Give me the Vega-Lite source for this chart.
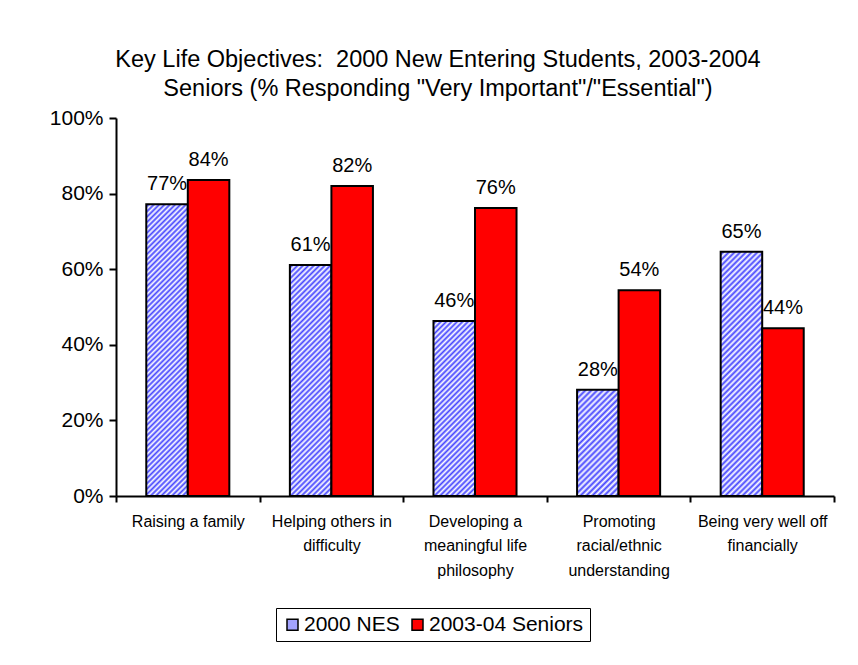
{
"$schema": "https://vega.github.io/schema/vega-lite/v6.json",
"width": 718,
"height": 378,
"autosize": {"type": "none"},
"padding": {"left": 116, "top": 118, "right": 24, "bottom": 169},
"background": "white",
"config": {"font": "Liberation Sans", "view": {"stroke": null}},
"title": {"text": ["Key Life Objectives:\u00a0 2000 New Entering Students, 2003-2004", "Seniors (% Responding \"Very Important\"/\"Essential\")"], "font": "Liberation Sans", "fontSize": 23.5, "fontWeight": "normal", "color": "black", "lineHeight": 29, "anchor": "middle", "frame": "group", "dx": -37, "offset": 7},
"data": {"values": [
{"objective": "Raising a family", "series": "2000 NES", "pct": 0.772},
{"objective": "Raising a family", "series": "2003-04 Seniors", "pct": 0.836},
{"objective": "Helping others in difficulty", "series": "2000 NES", "pct": 0.611},
{"objective": "Helping others in difficulty", "series": "2003-04 Seniors", "pct": 0.820},
{"objective": "Developing a meaningful life philosophy", "series": "2000 NES", "pct": 0.463},
{"objective": "Developing a meaningful life philosophy", "series": "2003-04 Seniors", "pct": 0.762},
{"objective": "Promoting racial/ethnic understanding", "series": "2000 NES", "pct": 0.281},
{"objective": "Promoting racial/ethnic understanding", "series": "2003-04 Seniors", "pct": 0.544},
{"objective": "Being very well off financially", "series": "2000 NES", "pct": 0.646},
{"objective": "Being very well off financially", "series": "2003-04 Seniors", "pct": 0.444}
]},
"encoding": {
"x": {"field": "objective", "type": "nominal", "sort": null, "scale": {"paddingInner": 0, "paddingOuter": 0},
 "axis": {"title": null, "labelAngle": 0, "tickBand": "extent", "tickSize": 6, "tickWidth": 2, "tickColor": "black", "domainColor": "black", "domainWidth": 2, "labelPadding": 11, "labelFontSize": 16, "labelLineHeight": 24.5, "labelBaseline": "top", "labelColor": "black", "labelLimit": 0, "labelOverlap": false, "labelBound": false, "grid": false,
 "labelExpr": "datum.value == 'Helping others in difficulty' ? ['Helping others in', 'difficulty'] : datum.value == 'Developing a meaningful life philosophy' ? ['Developing a', 'meaningful life', 'philosophy'] : datum.value == 'Promoting racial/ethnic understanding' ? ['Promoting', 'racial/ethnic', 'understanding'] : datum.value == 'Being very well off financially' ? ['Being very well off', 'financially'] : datum.label"}},
"xOffset": {"field": "series", "type": "nominal", "scale": {"paddingInner": 0, "paddingOuter": 0.729}},
"y": {"field": "pct", "type": "quantitative", "scale": {"domain": [0, 1], "nice": false},
 "axis": {"title": null, "format": ".0%", "values": [0, 0.2, 0.4, 0.6, 0.8, 1], "tickSize": 7, "tickWidth": 2, "tickColor": "black", "domainColor": "black", "domainWidth": 2, "labelPadding": 6, "labelFontSize": 21, "labelColor": "black", "grid": false}}
},
"layer": [
{"mark": {"type": "bar", "stroke": "black", "strokeWidth": 2},
 "encoding": {"fill": {
  "condition": [
   {"test": "datum.objective === 'Raising a family' && datum.series === '2000 NES'", "value": {"gradient": "linear", "x1": 0, "y1": 0, "x2": 0.1592, "y2": 1.1196, "stops": [
{"offset":0,"color":"#fff"},{"offset":0.008,"color":"#44f"},{"offset":0.016,"color":"#fff"},{"offset":0.024,"color":"#44f"},{"offset":0.032,"color":"#fff"},{"offset":0.04,"color":"#44f"},{"offset":0.048,"color":"#fff"},{"offset":0.056,"color":"#44f"},{"offset":0.064,"color":"#fff"},{"offset":0.072,"color":"#44f"},{"offset":0.08,"color":"#fff"},{"offset":0.088,"color":"#44f"},{"offset":0.096,"color":"#fff"},{"offset":0.104,"color":"#44f"},{"offset":0.112,"color":"#fff"},{"offset":0.12,"color":"#44f"},{"offset":0.128,"color":"#fff"},{"offset":0.136,"color":"#44f"},{"offset":0.144,"color":"#fff"},{"offset":0.152,"color":"#44f"},{"offset":0.16,"color":"#fff"},{"offset":0.168,"color":"#44f"},{"offset":0.176,"color":"#fff"},{"offset":0.184,"color":"#44f"},{"offset":0.192,"color":"#fff"},{"offset":0.2,"color":"#44f"},{"offset":0.208,"color":"#fff"},{"offset":0.216,"color":"#44f"},{"offset":0.224,"color":"#fff"},{"offset":0.232,"color":"#44f"},{"offset":0.24,"color":"#fff"},{"offset":0.248,"color":"#44f"},{"offset":0.256,"color":"#fff"},{"offset":0.264,"color":"#44f"},{"offset":0.272,"color":"#fff"},{"offset":0.28,"color":"#44f"},{"offset":0.288,"color":"#fff"},{"offset":0.296,"color":"#44f"},{"offset":0.304,"color":"#fff"},{"offset":0.312,"color":"#44f"},{"offset":0.32,"color":"#fff"},{"offset":0.328,"color":"#44f"},{"offset":0.336,"color":"#fff"},{"offset":0.344,"color":"#44f"},{"offset":0.352,"color":"#fff"},{"offset":0.36,"color":"#44f"},{"offset":0.368,"color":"#fff"},{"offset":0.376,"color":"#44f"},{"offset":0.384,"color":"#fff"},{"offset":0.392,"color":"#44f"},{"offset":0.4,"color":"#fff"},{"offset":0.408,"color":"#44f"},{"offset":0.416,"color":"#fff"},{"offset":0.424,"color":"#44f"},{"offset":0.432,"color":"#fff"},{"offset":0.44,"color":"#44f"},{"offset":0.448,"color":"#fff"},{"offset":0.456,"color":"#44f"},{"offset":0.464,"color":"#fff"},{"offset":0.472,"color":"#44f"},{"offset":0.48,"color":"#fff"},{"offset":0.488,"color":"#44f"},{"offset":0.496,"color":"#fff"},{"offset":0.504,"color":"#44f"},{"offset":0.512,"color":"#fff"},{"offset":0.52,"color":"#44f"},{"offset":0.528,"color":"#fff"},{"offset":0.536,"color":"#44f"},{"offset":0.544,"color":"#fff"},{"offset":0.552,"color":"#44f"},{"offset":0.56,"color":"#fff"},{"offset":0.568,"color":"#44f"},{"offset":0.576,"color":"#fff"},{"offset":0.584,"color":"#44f"},{"offset":0.592,"color":"#fff"},{"offset":0.6,"color":"#44f"},{"offset":0.608,"color":"#fff"},{"offset":0.616,"color":"#44f"},{"offset":0.624,"color":"#fff"},{"offset":0.632,"color":"#44f"},{"offset":0.64,"color":"#fff"},{"offset":0.648,"color":"#44f"},{"offset":0.656,"color":"#fff"},{"offset":0.664,"color":"#44f"},{"offset":0.672,"color":"#fff"},{"offset":0.68,"color":"#44f"},{"offset":0.688,"color":"#fff"},{"offset":0.696,"color":"#44f"},{"offset":0.704,"color":"#fff"},{"offset":0.712,"color":"#44f"},{"offset":0.72,"color":"#fff"},{"offset":0.728,"color":"#44f"},{"offset":0.736,"color":"#fff"},{"offset":0.744,"color":"#44f"},{"offset":0.752,"color":"#fff"},{"offset":0.76,"color":"#44f"},{"offset":0.768,"color":"#fff"},{"offset":0.776,"color":"#44f"},{"offset":0.784,"color":"#fff"},{"offset":0.792,"color":"#44f"},{"offset":0.8,"color":"#fff"},{"offset":0.808,"color":"#44f"},{"offset":0.816,"color":"#fff"},{"offset":0.824,"color":"#44f"},{"offset":0.832,"color":"#fff"},{"offset":0.84,"color":"#44f"},{"offset":0.848,"color":"#fff"},{"offset":0.856,"color":"#44f"},{"offset":0.864,"color":"#fff"},{"offset":0.872,"color":"#44f"},{"offset":0.88,"color":"#fff"},{"offset":0.888,"color":"#44f"},{"offset":0.896,"color":"#fff"},{"offset":0.904,"color":"#44f"},{"offset":0.912,"color":"#fff"},{"offset":0.92,"color":"#44f"},{"offset":0.928,"color":"#fff"},{"offset":0.936,"color":"#44f"},{"offset":0.944,"color":"#fff"},{"offset":0.952,"color":"#44f"},{"offset":0.96,"color":"#fff"},{"offset":0.968,"color":"#44f"},{"offset":0.976,"color":"#fff"},{"offset":0.984,"color":"#44f"},{"offset":0.992,"color":"#fff"},{"offset":1,"color":"#44f"}
   ]}},
   {"test": "datum.objective === 'Helping others in difficulty' && datum.series === '2000 NES'", "value": {"gradient": "linear", "x1": 0, "y1": 0, "x2": 0.2053, "y2": 1.1428, "stops": [
{"offset":0,"color":"#fff"},{"offset":0.01,"color":"#44f"},{"offset":0.02,"color":"#fff"},{"offset":0.03,"color":"#44f"},{"offset":0.04,"color":"#fff"},{"offset":0.05,"color":"#44f"},{"offset":0.06,"color":"#fff"},{"offset":0.07,"color":"#44f"},{"offset":0.08,"color":"#fff"},{"offset":0.09,"color":"#44f"},{"offset":0.1,"color":"#fff"},{"offset":0.11,"color":"#44f"},{"offset":0.12,"color":"#fff"},{"offset":0.13,"color":"#44f"},{"offset":0.14,"color":"#fff"},{"offset":0.15,"color":"#44f"},{"offset":0.16,"color":"#fff"},{"offset":0.17,"color":"#44f"},{"offset":0.18,"color":"#fff"},{"offset":0.19,"color":"#44f"},{"offset":0.2,"color":"#fff"},{"offset":0.21,"color":"#44f"},{"offset":0.22,"color":"#fff"},{"offset":0.23,"color":"#44f"},{"offset":0.24,"color":"#fff"},{"offset":0.25,"color":"#44f"},{"offset":0.26,"color":"#fff"},{"offset":0.27,"color":"#44f"},{"offset":0.28,"color":"#fff"},{"offset":0.29,"color":"#44f"},{"offset":0.3,"color":"#fff"},{"offset":0.31,"color":"#44f"},{"offset":0.32,"color":"#fff"},{"offset":0.33,"color":"#44f"},{"offset":0.34,"color":"#fff"},{"offset":0.35,"color":"#44f"},{"offset":0.36,"color":"#fff"},{"offset":0.37,"color":"#44f"},{"offset":0.38,"color":"#fff"},{"offset":0.39,"color":"#44f"},{"offset":0.4,"color":"#fff"},{"offset":0.41,"color":"#44f"},{"offset":0.42,"color":"#fff"},{"offset":0.43,"color":"#44f"},{"offset":0.44,"color":"#fff"},{"offset":0.45,"color":"#44f"},{"offset":0.46,"color":"#fff"},{"offset":0.47,"color":"#44f"},{"offset":0.48,"color":"#fff"},{"offset":0.49,"color":"#44f"},{"offset":0.5,"color":"#fff"},{"offset":0.51,"color":"#44f"},{"offset":0.52,"color":"#fff"},{"offset":0.53,"color":"#44f"},{"offset":0.54,"color":"#fff"},{"offset":0.55,"color":"#44f"},{"offset":0.56,"color":"#fff"},{"offset":0.57,"color":"#44f"},{"offset":0.58,"color":"#fff"},{"offset":0.59,"color":"#44f"},{"offset":0.6,"color":"#fff"},{"offset":0.61,"color":"#44f"},{"offset":0.62,"color":"#fff"},{"offset":0.63,"color":"#44f"},{"offset":0.64,"color":"#fff"},{"offset":0.65,"color":"#44f"},{"offset":0.66,"color":"#fff"},{"offset":0.67,"color":"#44f"},{"offset":0.68,"color":"#fff"},{"offset":0.69,"color":"#44f"},{"offset":0.7,"color":"#fff"},{"offset":0.71,"color":"#44f"},{"offset":0.72,"color":"#fff"},{"offset":0.73,"color":"#44f"},{"offset":0.74,"color":"#fff"},{"offset":0.75,"color":"#44f"},{"offset":0.76,"color":"#fff"},{"offset":0.77,"color":"#44f"},{"offset":0.78,"color":"#fff"},{"offset":0.79,"color":"#44f"},{"offset":0.8,"color":"#fff"},{"offset":0.81,"color":"#44f"},{"offset":0.82,"color":"#fff"},{"offset":0.83,"color":"#44f"},{"offset":0.84,"color":"#fff"},{"offset":0.85,"color":"#44f"},{"offset":0.86,"color":"#fff"},{"offset":0.87,"color":"#44f"},{"offset":0.88,"color":"#fff"},{"offset":0.89,"color":"#44f"},{"offset":0.9,"color":"#fff"},{"offset":0.91,"color":"#44f"},{"offset":0.92,"color":"#fff"},{"offset":0.93,"color":"#44f"},{"offset":0.94,"color":"#fff"},{"offset":0.95,"color":"#44f"},{"offset":0.96,"color":"#fff"},{"offset":0.97,"color":"#44f"},{"offset":0.98,"color":"#fff"},{"offset":0.99,"color":"#44f"},{"offset":1,"color":"#fff"}
   ]}},
   {"test": "datum.objective === 'Developing a meaningful life philosophy' && datum.series === '2000 NES'", "value": {"gradient": "linear", "x1": 0, "y1": 0, "x2": 0.2778, "y2": 1.1713, "stops": [
{"offset":0,"color":"#fff"},{"offset":0.0125,"color":"#44f"},{"offset":0.025,"color":"#fff"},{"offset":0.0375,"color":"#44f"},{"offset":0.05,"color":"#fff"},{"offset":0.0625,"color":"#44f"},{"offset":0.075,"color":"#fff"},{"offset":0.0875,"color":"#44f"},{"offset":0.1,"color":"#fff"},{"offset":0.1125,"color":"#44f"},{"offset":0.125,"color":"#fff"},{"offset":0.1375,"color":"#44f"},{"offset":0.15,"color":"#fff"},{"offset":0.1625,"color":"#44f"},{"offset":0.175,"color":"#fff"},{"offset":0.1875,"color":"#44f"},{"offset":0.2,"color":"#fff"},{"offset":0.2125,"color":"#44f"},{"offset":0.225,"color":"#fff"},{"offset":0.2375,"color":"#44f"},{"offset":0.25,"color":"#fff"},{"offset":0.2625,"color":"#44f"},{"offset":0.275,"color":"#fff"},{"offset":0.2875,"color":"#44f"},{"offset":0.3,"color":"#fff"},{"offset":0.3125,"color":"#44f"},{"offset":0.325,"color":"#fff"},{"offset":0.3375,"color":"#44f"},{"offset":0.35,"color":"#fff"},{"offset":0.3625,"color":"#44f"},{"offset":0.375,"color":"#fff"},{"offset":0.3875,"color":"#44f"},{"offset":0.4,"color":"#fff"},{"offset":0.4125,"color":"#44f"},{"offset":0.425,"color":"#fff"},{"offset":0.4375,"color":"#44f"},{"offset":0.45,"color":"#fff"},{"offset":0.4625,"color":"#44f"},{"offset":0.475,"color":"#fff"},{"offset":0.4875,"color":"#44f"},{"offset":0.5,"color":"#fff"},{"offset":0.5125,"color":"#44f"},{"offset":0.525,"color":"#fff"},{"offset":0.5375,"color":"#44f"},{"offset":0.55,"color":"#fff"},{"offset":0.5625,"color":"#44f"},{"offset":0.575,"color":"#fff"},{"offset":0.5875,"color":"#44f"},{"offset":0.6,"color":"#fff"},{"offset":0.6125,"color":"#44f"},{"offset":0.625,"color":"#fff"},{"offset":0.6375,"color":"#44f"},{"offset":0.65,"color":"#fff"},{"offset":0.6625,"color":"#44f"},{"offset":0.675,"color":"#fff"},{"offset":0.6875,"color":"#44f"},{"offset":0.7,"color":"#fff"},{"offset":0.7125,"color":"#44f"},{"offset":0.725,"color":"#fff"},{"offset":0.7375,"color":"#44f"},{"offset":0.75,"color":"#fff"},{"offset":0.7625,"color":"#44f"},{"offset":0.775,"color":"#fff"},{"offset":0.7875,"color":"#44f"},{"offset":0.8,"color":"#fff"},{"offset":0.8125,"color":"#44f"},{"offset":0.825,"color":"#fff"},{"offset":0.8375,"color":"#44f"},{"offset":0.85,"color":"#fff"},{"offset":0.8625,"color":"#44f"},{"offset":0.875,"color":"#fff"},{"offset":0.8875,"color":"#44f"},{"offset":0.9,"color":"#fff"},{"offset":0.9125,"color":"#44f"},{"offset":0.925,"color":"#fff"},{"offset":0.9375,"color":"#44f"},{"offset":0.95,"color":"#fff"},{"offset":0.9625,"color":"#44f"},{"offset":0.975,"color":"#fff"},{"offset":0.9875,"color":"#44f"},{"offset":1,"color":"#fff"}
   ]}},
   {"test": "datum.objective === 'Promoting racial/ethnic understanding' && datum.series === '2000 NES'", "value": {"gradient": "linear", "x1": 0, "y1": 0, "x2": 0.4715, "y2": 1.2065, "stops": [
{"offset":0,"color":"#fff"},{"offset":0.02,"color":"#44f"},{"offset":0.04,"color":"#fff"},{"offset":0.06,"color":"#44f"},{"offset":0.08,"color":"#fff"},{"offset":0.1,"color":"#44f"},{"offset":0.12,"color":"#fff"},{"offset":0.14,"color":"#44f"},{"offset":0.16,"color":"#fff"},{"offset":0.18,"color":"#44f"},{"offset":0.2,"color":"#fff"},{"offset":0.22,"color":"#44f"},{"offset":0.24,"color":"#fff"},{"offset":0.26,"color":"#44f"},{"offset":0.28,"color":"#fff"},{"offset":0.3,"color":"#44f"},{"offset":0.32,"color":"#fff"},{"offset":0.34,"color":"#44f"},{"offset":0.36,"color":"#fff"},{"offset":0.38,"color":"#44f"},{"offset":0.4,"color":"#fff"},{"offset":0.42,"color":"#44f"},{"offset":0.44,"color":"#fff"},{"offset":0.46,"color":"#44f"},{"offset":0.48,"color":"#fff"},{"offset":0.5,"color":"#44f"},{"offset":0.52,"color":"#fff"},{"offset":0.54,"color":"#44f"},{"offset":0.56,"color":"#fff"},{"offset":0.58,"color":"#44f"},{"offset":0.6,"color":"#fff"},{"offset":0.62,"color":"#44f"},{"offset":0.64,"color":"#fff"},{"offset":0.66,"color":"#44f"},{"offset":0.68,"color":"#fff"},{"offset":0.7,"color":"#44f"},{"offset":0.72,"color":"#fff"},{"offset":0.74,"color":"#44f"},{"offset":0.76,"color":"#fff"},{"offset":0.78,"color":"#44f"},{"offset":0.8,"color":"#fff"},{"offset":0.82,"color":"#44f"},{"offset":0.84,"color":"#fff"},{"offset":0.86,"color":"#44f"},{"offset":0.88,"color":"#fff"},{"offset":0.9,"color":"#44f"},{"offset":0.92,"color":"#fff"},{"offset":0.94,"color":"#44f"},{"offset":0.96,"color":"#fff"},{"offset":0.98,"color":"#44f"},{"offset":1,"color":"#fff"}
   ]}},
   {"test": "datum.objective === 'Being very well off financially' && datum.series === '2000 NES'", "value": {"gradient": "linear", "x1": 0, "y1": 0, "x2": 0.1932, "y2": 1.1371, "stops": [
{"offset":0,"color":"#fff"},{"offset":0.01,"color":"#44f"},{"offset":0.02,"color":"#fff"},{"offset":0.03,"color":"#44f"},{"offset":0.04,"color":"#fff"},{"offset":0.05,"color":"#44f"},{"offset":0.06,"color":"#fff"},{"offset":0.07,"color":"#44f"},{"offset":0.08,"color":"#fff"},{"offset":0.09,"color":"#44f"},{"offset":0.1,"color":"#fff"},{"offset":0.11,"color":"#44f"},{"offset":0.12,"color":"#fff"},{"offset":0.13,"color":"#44f"},{"offset":0.14,"color":"#fff"},{"offset":0.15,"color":"#44f"},{"offset":0.16,"color":"#fff"},{"offset":0.17,"color":"#44f"},{"offset":0.18,"color":"#fff"},{"offset":0.19,"color":"#44f"},{"offset":0.2,"color":"#fff"},{"offset":0.21,"color":"#44f"},{"offset":0.22,"color":"#fff"},{"offset":0.23,"color":"#44f"},{"offset":0.24,"color":"#fff"},{"offset":0.25,"color":"#44f"},{"offset":0.26,"color":"#fff"},{"offset":0.27,"color":"#44f"},{"offset":0.28,"color":"#fff"},{"offset":0.29,"color":"#44f"},{"offset":0.3,"color":"#fff"},{"offset":0.31,"color":"#44f"},{"offset":0.32,"color":"#fff"},{"offset":0.33,"color":"#44f"},{"offset":0.34,"color":"#fff"},{"offset":0.35,"color":"#44f"},{"offset":0.36,"color":"#fff"},{"offset":0.37,"color":"#44f"},{"offset":0.38,"color":"#fff"},{"offset":0.39,"color":"#44f"},{"offset":0.4,"color":"#fff"},{"offset":0.41,"color":"#44f"},{"offset":0.42,"color":"#fff"},{"offset":0.43,"color":"#44f"},{"offset":0.44,"color":"#fff"},{"offset":0.45,"color":"#44f"},{"offset":0.46,"color":"#fff"},{"offset":0.47,"color":"#44f"},{"offset":0.48,"color":"#fff"},{"offset":0.49,"color":"#44f"},{"offset":0.5,"color":"#fff"},{"offset":0.51,"color":"#44f"},{"offset":0.52,"color":"#fff"},{"offset":0.53,"color":"#44f"},{"offset":0.54,"color":"#fff"},{"offset":0.55,"color":"#44f"},{"offset":0.56,"color":"#fff"},{"offset":0.57,"color":"#44f"},{"offset":0.58,"color":"#fff"},{"offset":0.59,"color":"#44f"},{"offset":0.6,"color":"#fff"},{"offset":0.61,"color":"#44f"},{"offset":0.62,"color":"#fff"},{"offset":0.63,"color":"#44f"},{"offset":0.64,"color":"#fff"},{"offset":0.65,"color":"#44f"},{"offset":0.66,"color":"#fff"},{"offset":0.67,"color":"#44f"},{"offset":0.68,"color":"#fff"},{"offset":0.69,"color":"#44f"},{"offset":0.7,"color":"#fff"},{"offset":0.71,"color":"#44f"},{"offset":0.72,"color":"#fff"},{"offset":0.73,"color":"#44f"},{"offset":0.74,"color":"#fff"},{"offset":0.75,"color":"#44f"},{"offset":0.76,"color":"#fff"},{"offset":0.77,"color":"#44f"},{"offset":0.78,"color":"#fff"},{"offset":0.79,"color":"#44f"},{"offset":0.8,"color":"#fff"},{"offset":0.81,"color":"#44f"},{"offset":0.82,"color":"#fff"},{"offset":0.83,"color":"#44f"},{"offset":0.84,"color":"#fff"},{"offset":0.85,"color":"#44f"},{"offset":0.86,"color":"#fff"},{"offset":0.87,"color":"#44f"},{"offset":0.88,"color":"#fff"},{"offset":0.89,"color":"#44f"},{"offset":0.9,"color":"#fff"},{"offset":0.91,"color":"#44f"},{"offset":0.92,"color":"#fff"},{"offset":0.93,"color":"#44f"},{"offset":0.94,"color":"#fff"},{"offset":0.95,"color":"#44f"},{"offset":0.96,"color":"#fff"},{"offset":0.97,"color":"#44f"},{"offset":0.98,"color":"#fff"},{"offset":0.99,"color":"#44f"},{"offset":1,"color":"#fff"}
   ]}}
  ],
  "field": "series", "type": "nominal",
  "scale": {"domain": ["2000 NES", "2003-04 Seniors"], "range": ["#a3a3ff", "#ff0000"]},
  "legend": {"title": null, "orient": "none", "legendX": 160, "legendY": 490, "direction": "horizontal", "strokeColor": "black", "fillColor": "white", "padding": 6, "symbolType": "square", "symbolSize": 121, "labelFontSize": 21, "labelFont": "Liberation Sans", "labelColor": "black", "labelOffset": 1, "columnPadding": 7,
   "encode": {"legend": {"update": {"strokeWidth": {"value": 2}}},
    "symbols": {"update": {"stroke": {"value": "black"}, "strokeWidth": {"value": 1.5}}}}}
 }}},
{"mark": {"type": "text", "dy": -14, "baseline": "alphabetic", "align": "center", "fontSize": 20, "color": "black", "font": "Liberation Sans"},
 "encoding": {"text": {"field": "pct", "type": "quantitative", "format": ".0%"}}}
]
}
